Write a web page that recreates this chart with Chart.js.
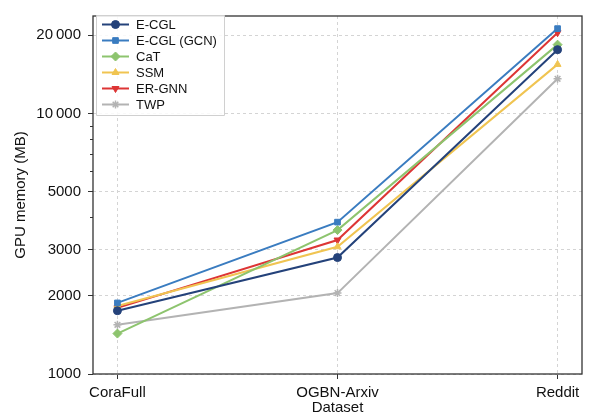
<!DOCTYPE html>
<html>
<head>
<meta charset="utf-8">
<script src="https://cdn.jsdelivr.net/npm/chart.js@4.4.1/dist/chart.umd.min.js"></script>
<style>
  html, body { margin: 0; padding: 0; background: #fff; }
  #wrap { width: 590px; height: 417px; }
</style>
</head>
<body>
<div id="wrap"><canvas id="chart" width="590" height="417"></canvas></div>
<script>
// data
const datasets = ['CoraFull', 'OGBN-Arxiv', 'Reddit'];
const ecgl    = [1750, 2800, 17600];
const ecglGcn = [1875, 3830, 21200];
const cat     = [1430, 3570, 18400];
const ssm     = [1825, 3080, 15450];
const erGnn   = [1795, 3270, 20450];
const twp     = [1545, 2045, 13600];

const majorTicks = [1000, 2000, 3000, 5000, 10000, 20000];
const minorTicks = [4000, 6000, 7000, 8000, 9000];

const FONT = 'Liberation Sans, Arial, sans-serif';

function pts(arr) {
    return arr.map((v, i) => ({ x: i, y: v }));
}

function series(label, values, color, style, rotation) {
    return {
        label: label,
        data: pts(values),
        borderColor: color,
        backgroundColor: color,
        borderWidth: 2,
        pointStyle: style,
        pointRotation: rotation || 0,
        pointRadius: style === 'rectRot' ? 4.5 : 4,
        pointBorderWidth: style === 'star' ? 1.5 : 1,
        tension: 0
    };
}

// frame, minor ticks, legend with line + marker
const extras = {
    id: 'extras',
    afterDraw(chart) {
        const ctx = chart.ctx;
        const a = chart.chartArea;
        const y = chart.scales.y;
        ctx.save();
        ctx.strokeStyle = '#333';
        ctx.lineWidth = 1.3;
        ctx.strokeRect(a.left, a.top, a.right - a.left, a.bottom - a.top);
        ctx.lineWidth = 1;
        minorTicks.forEach(v => {
            const py = Math.round(y.getPixelForValue(v)) + 0.5;
            ctx.beginPath();
            ctx.moveTo(a.left - 3, py);
            ctx.lineTo(a.left, py);
            ctx.stroke();
        });

        // legend
        const bx = 96, by = 15, bw = 128, bh = 100;
        ctx.fillStyle = 'rgba(255,255,255,0.85)';
        ctx.strokeStyle = '#d0d0d0';
        ctx.lineWidth = 1;
        ctx.beginPath();
        ctx.rect(bx + 0.5, by + 0.5, bw, bh);
        ctx.fill();
        ctx.stroke();
        ctx.font = '13px ' + FONT;
        ctx.textBaseline = 'middle';
        chart.data.datasets.forEach((ds, i) => {
            const cy = 24.5 + i * 16;
            ctx.strokeStyle = ds.borderColor;
            ctx.lineWidth = 2;
            ctx.beginPath();
            ctx.moveTo(102, cy);
            ctx.lineTo(129, cy);
            ctx.stroke();
            ctx.fillStyle = ds.backgroundColor;
            ctx.lineWidth = ds.pointBorderWidth;
            Chart.helpers.drawPoint(ctx, {
                pointStyle: ds.pointStyle,
                rotation: ds.pointRotation,
                radius: ds.pointRadius,
                borderWidth: ds.pointBorderWidth
            }, 115.5, cy);
            ctx.fillStyle = '#111';
            ctx.fillText(ds.label, 136, cy + 1);
        });
        ctx.restore();
    }
};

new Chart(document.getElementById('chart'), {
    type: 'line',
    data: {
        datasets: [
            series('E-CGL', ecgl, '#24427a', 'circle'),
            series('E-CGL (GCN)', ecglGcn, '#3a7cc0', 'rect'),
            series('CaT', cat, '#8dc46e', 'rectRot'),
            series('SSM', ssm, '#f0c451', 'triangle'),
            series('ER-GNN', erGnn, '#dd3535', 'triangle', 180),
            series('TWP', twp, '#b3b3b3', 'star')
        ]
    },
    options: {
        responsive: false,
        animation: false,
        layout: { padding: { top: 11, right: 8, left: 0, bottom: 0 } },
        plugins: {
            legend: { display: false },
            tooltip: { enabled: false }
        },
        scales: {
            x: {
                type: 'linear',
                min: -0.111,
                max: 2.111,
                afterBuildTicks: scale => {
                    scale.ticks = datasets.map((d, i) => ({ value: i }));
                },
                afterFit: scale => { scale.height = 43; },
                ticks: {
                    callback: v => datasets[v],
                    color: '#111',
                    font: { family: FONT, size: 15 },
                    padding: 5,
                    maxRotation: 0
                },
                grid: {
                    color: '#d4d4d4',
                    tickColor: '#333',
                    tickLength: 5,
                    tickBorderDash: [],
                    drawTicks: true
                },
                border: { display: false, dash: [3, 3] },
                title: {
                    display: true,
                    text: 'Dataset',
                    color: '#111',
                    font: { family: FONT, size: 15 },
                    padding: { top: 0, bottom: 0 }
                }
            },
            y: {
                type: 'logarithmic',
                min: 1000,
                max: 23700,
                afterBuildTicks: scale => {
                    scale.ticks = majorTicks.map(v => ({ value: v }));
                },
                afterFit: scale => { scale.width = 93; },
                ticks: {
                    callback: v => v >= 10000 ? String(v / 1000) + '\u2009000' : String(v),
                    color: '#111',
                    font: { family: FONT, size: 15 },
                    padding: 7
                },
                grid: {
                    color: '#d4d4d4',
                    tickColor: '#333',
                    tickLength: 5,
                    tickBorderDash: []
                },
                border: { display: false, dash: [3, 3] },
                title: {
                    display: true,
                    text: 'GPU memory (MB)',
                    color: '#111',
                    font: { family: FONT, size: 15 },
                    padding: { top: 12, bottom: 0 }
                }
            }
        }
    },
    plugins: [extras]
});
</script>
</body>
</html>
